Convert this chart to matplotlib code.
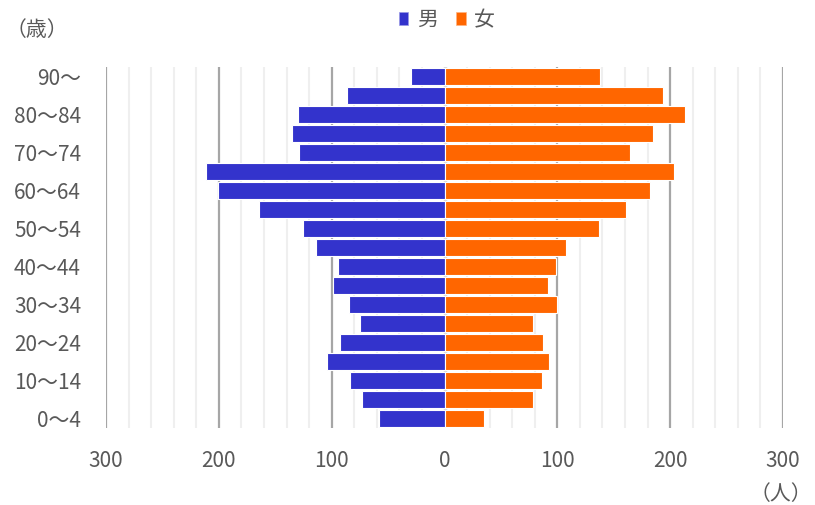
import numpy as np
import matplotlib.pyplot as plt
from matplotlib.patches import Patch

plt.rcParams['font.family'] = ['Noto Sans CJK JP', 'DejaVu Sans']

# age groups, bottom to top
ages = ['0〜4', '5〜9', '10〜14', '15〜19', '20〜24', '25〜29', '30〜34', '35〜39',
        '40〜44', '45〜49', '50〜54', '55〜59', '60〜64', '65〜69', '70〜74',
        '75〜79', '80〜84', '85〜89', '90〜']
male = [58, 73, 84, 104, 93, 75, 85, 99, 94, 114, 125, 164, 201, 211, 129,
        135, 130, 86, 30]
female = [35, 78, 86, 93, 87, 78, 100, 92, 99, 108, 137, 161, 182, 203, 164,
          185, 213, 194, 138]

text_col = '#595959'
blue = '#3333CC'
orange = '#FF6600'

fig = plt.figure(figsize=(8.15, 5.05), dpi=100)
ax = fig.add_axes([106/815, 77/505, 677/815, 361/505])

y = np.arange(len(ages))
#minor and major grid
for v in range(-280, 300, 20):
    if v % 100 != 0:
        ax.axvline(v, color='#EFEFEF', lw=1.5, zorder=0)
for v in [-300, -200, -100, 100, 200, 300]:
    ax.axvline(v, color='#A6A6A6', lw=1.6, zorder=1)
ax.axvline(0, color='#D9D9D9', lw=2.5, zorder=1)

ax.barh(y, -np.array(male), height=0.92, color=blue, edgecolor='white',
        linewidth=0.8, zorder=2)
ax.barh(y, female, height=0.92, color=orange, edgecolor='white',
        linewidth=0.8, zorder=2)

ax.set_xlim(-300, 300)
ax.set_ylim(-0.5, len(ages) - 0.5)
xt = [-300, -200, -100, 0, 100, 200, 300]
ax.set_xticks(xt)
ax.set_xticklabels([str(abs(v)) for v in xt])
ax.set_yticks(y[::2])
ax.set_yticklabels(ages[::2])
ax.tick_params(axis='both', length=0, labelsize=15, labelcolor=text_col)
ax.tick_params(axis='x', pad=16)
ax.tick_params(axis='y', pad=18)
for s in ax.spines.values():
    s.set_visible(False)

handles = [Patch(facecolor=blue, edgecolor='#9999E6', lw=0.5, label='男'),
           Patch(facecolor=orange, edgecolor='#FFB380', lw=0.5, label='女')]
fig.legend(handles=handles, loc='center', bbox_to_anchor=(447/815, 1 - 20/505),
           ncol=2, frameon=False, fontsize=15, labelcolor=text_col,
           handlelength=0.45, handleheight=0.6, handletextpad=0.4,
           columnspacing=0.9)

fig.text(6/815, 1 - 30/505, '（歳）', fontsize=15, color=text_col,
         ha='left', va='center')
fig.text(812/815, 1 - 494/505, '（人）', fontsize=15, color=text_col,
         ha='right', va='center')

fig.savefig('out.png', dpi=100)
